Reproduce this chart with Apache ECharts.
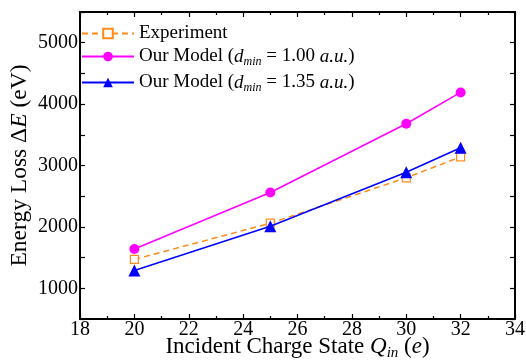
<!DOCTYPE html>
<html>
<head>
<meta charset="utf-8">
<script src="https://cdn.jsdelivr.net/npm/echarts@6/dist/echarts.min.js"></script>
<style>
  html, body { margin: 0; padding: 0; background: #fff; }
  #chart { width: 526px; height: 362px; }
</style>
</head>
<body>
<div id="chart"></div>
<script>
const chargeStates = [20, 25, 30, 32];
const experiment = [1470, 2060, 2800, 3140];
const modelD100 = [1640, 2560, 3680, 4190];
const modelD135 = [1290, 2010, 2890, 3290];

const seriesNames = ["exp", "m100", "m135"];
const legendLabels = {
  exp: "{n|Experiment}",
  m100: "{n|Our Model (}{i|d}{s|min}{n| = 1.00 }{i|a.u.}{n|)}",
  m135: "{n|Our Model (}{i|d}{s|min}{n| = 1.35 }{i|a.u.}{n|)}",
};
const legendTops = [24, 47, 73];

const FONT = "Liberation Serif";
const richText = (size) => ({
  n: { fontFamily: FONT, fontSize: size, color: "#000" },
  i: { fontFamily: FONT, fontSize: size, fontStyle: "italic", color: "#000" },
  s: {
    fontFamily: FONT,
    fontSize: Math.round(size * 0.65),
    fontStyle: "italic",
    color: "#000",
    verticalAlign: "bottom",
    padding: [Math.round(size * 0.55), 0, 0, 0],
  },
});

const pairs = (ys) => chargeStates.map((x, i) => [x, ys[i]]);

// show only the thousands on the y axis; the 500 steps are bare ticks
const yLabel = (v) => (v % 1000 === 0 ? String(v) : "");

const chart = echarts.init(document.getElementById("chart"));

const axisLine = { show: true, lineStyle: { color: "#000", width: 2 } };
const majorTick = { show: true, inside: true, length: 5, lineStyle: { color: "#000", width: 1.2 } };
const minorTick = { show: true, splitNumber: 2, length: 3, lineStyle: { color: "#000", width: 1.2 } };

// one legend per row so the uneven row spacing of the original can be kept
const legends = seriesNames.map((name, i) => ({
  left: 81,
  top: legendTops[i],
  padding: 0,
  itemWidth: 52,
  itemHeight: 12,
  data: [name],
  formatter: (n) => legendLabels[n],
  textStyle: { rich: richText(19) },
}));

chart.setOption({
  animation: false,
  backgroundColor: "#fff",
  grid: {
    left: 80,
    right: 11,
    top: 12,
    bottom: 43,
    containLabel: false,
    outerBoundsMode: "none",
  },
  legend: legends,
  xAxis: [
    {
      type: "value",
      min: 18,
      max: 34,
      interval: 2,
      axisLine,
      axisTick: majorTick,
      minorTick,
      splitLine: { show: false },
      axisLabel: { fontFamily: FONT, fontSize: 20, color: "#000", margin: 1 },
      name: "{n|Incident Charge State }{i|Q}{s|in}{n| (}{i|e}{n|)}",
      nameLocation: "middle",
      nameMoveOverlap: false,
      nameGap: 14,
      nameTextStyle: { rich: richText(23) },
    },
    {
      type: "value",
      min: 18,
      max: 34,
      interval: 2,
      position: "top",
      axisLine,
      axisTick: majorTick,
      minorTick,
      splitLine: { show: false },
      axisLabel: { show: false },
    },
  ],
  yAxis: [
    {
      type: "value",
      min: 500,
      max: 5500,
      interval: 500,
      axisLine,
      axisTick: majorTick,
      splitLine: { show: false },
      axisLabel: {
        fontFamily: FONT,
        fontSize: 20,
        color: "#000",
        margin: 2,
        formatter: yLabel,
      },
      name: "{n|Energy Loss Δ}{i|E}{n| (eV)}",
      nameLocation: "middle",
      nameMoveOverlap: false,
      nameGap: 48,
      nameTextStyle: { rich: richText(23.5) },
    },
    {
      type: "value",
      min: 500,
      max: 5500,
      interval: 500,
      position: "right",
      axisLine,
      axisTick: majorTick,
      splitLine: { show: false },
      axisLabel: { show: false },
    },
  ],
  series: [
    {
      name: "exp",
      type: "line",
      data: pairs(experiment),
      symbol: "rect",
      symbolSize: 8,
      itemStyle: { color: "#fff", borderColor: "#FF8C1A", borderWidth: 1.2 },
      lineStyle: { color: "#FF8C1A", width: 1.5, type: [6, 4] },
      z: 2,
    },
    {
      name: "m100",
      type: "line",
      data: pairs(modelD100),
      symbol: "circle",
      symbolSize: 10,
      itemStyle: { color: "#FF00FF" },
      lineStyle: { color: "#FF00FF", width: 1.5 },
      z: 3,
    },
    {
      name: "m135",
      type: "line",
      data: pairs(modelD135),
      symbol: "triangle",
      symbolSize: 12,
      itemStyle: { color: "#0000FF" },
      lineStyle: { color: "#0000FF", width: 1.5 },
      z: 4,
    },
  ],
});
</script>
</body>
</html>
